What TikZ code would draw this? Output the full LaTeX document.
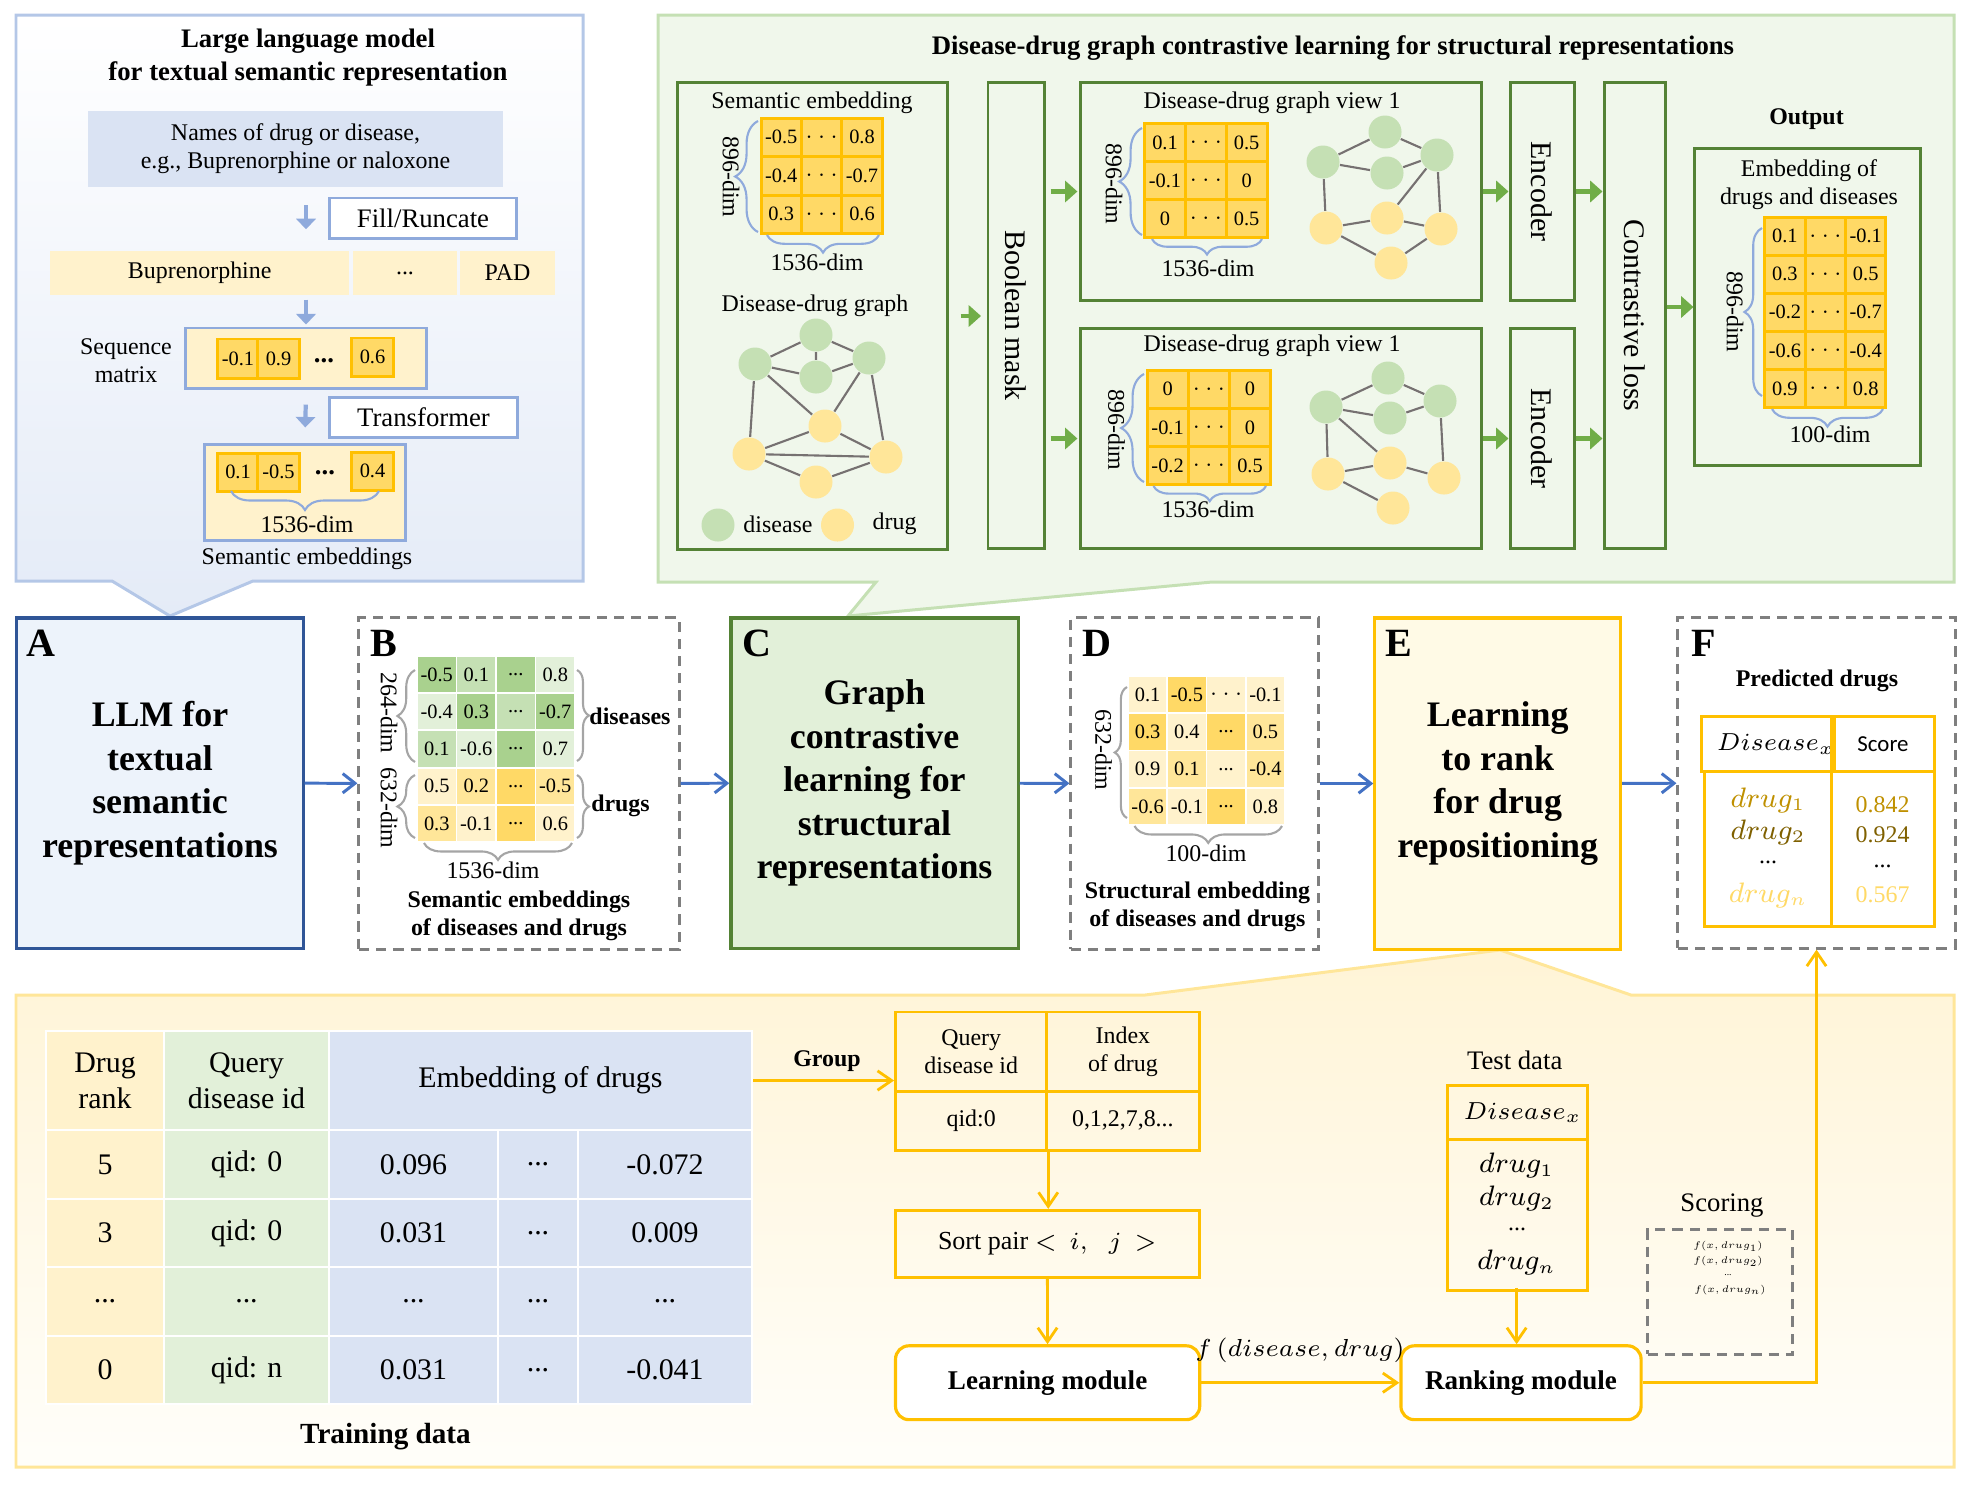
\documentclass[tikz,border=0pt]{standalone}
\usepackage{fontspec}
\setmainfont{Liberation Serif}
\newfontfamily\scorefont{Carlito}
\usetikzlibrary{arrows.meta,decorations.pathreplacing,positioning,calc}

\definecolor{llmline}{HTML}{B4C7E7}
\definecolor{llmbottom}{HTML}{E4EBF7}
\definecolor{namefill}{HTML}{DAE3F3}
\definecolor{lightblue}{HTML}{8FAADC}
\definecolor{darkblue}{HTML}{2F5597}
\definecolor{midblue}{HTML}{4472C4}
\definecolor{afill}{HTML}{EDF3FB}
\definecolor{py}{HTML}{FFF2CC}
\definecolor{my}{HTML}{FFE699}
\definecolor{dy}{HTML}{FFD966}
\definecolor{goldline}{HTML}{FFC000}
\definecolor{greenpanel}{HTML}{F0F7EB}
\definecolor{greenline}{HTML}{C5E0B4}
\definecolor{darkgreen}{HTML}{548235}
\definecolor{arrowgreen}{HTML}{70AD47}
\definecolor{pgreen}{HTML}{E2F0D9}
\definecolor{mgreen}{HTML}{C5E0B4}
\definecolor{lgreen}{HTML}{A9D18E}
\definecolor{edgegray}{HTML}{767171}
\definecolor{dashgray}{HTML}{7F7F7F}
\definecolor{bracegray}{HTML}{A5A5A5}
\definecolor{efill}{HTML}{FFFAE6}
\definecolor{yellowtop}{HTML}{FFF4D6}
\definecolor{yellowbottom}{HTML}{FFFEFA}
\definecolor{darkgold}{HTML}{BF9000}
\definecolor{browngold}{HTML}{7F6000}

\newcommand\tdots{...}

\tikzset
{
    fcell/.style   = {font=\fontsize{5.8}{7}\selectfont},
    fnorm/.style   = {font=\fontsize{6.8}{8}\selectfont},
    fnormb/.style  = {font=\fontsize{6.8}{8.1}\selectfont\bfseries},
    fbig/.style    = {font=\fontsize{7.6}{9.4}\selectfont},
    fbigb/.style   = {font=\fontsize{7.6}{9.4}\selectfont\bfseries},
    fwide/.style   = {font=\fontsize{8.5}{10.2}\selectfont},
    fwideb/.style  = {font=\fontsize{8.3}{10}\selectfont\bfseries},
    fhead/.style   = {font=\fontsize{10.2}{12.4}\selectfont\bfseries},
    fmath/.style   = {font=\fontsize{7.7}{9}\selectfont},
    fdis/.style    = {font=\fontsize{6.9}{8}\selectfont},
    ftiny/.style   = {font=\fontsize{5}{6}\selectfont, scale=0.55, inner sep=0pt},
    letter/.style  = {font=\fontsize{11.4}{13}\selectfont\bfseries, inner sep=0pt},
    llmbox/.style  = {rectangle, draw=lightblue, line width=0.85pt, fill=white, inner sep=0pt, fbig},
    seqbox/.style  = {rectangle, draw=lightblue, line width=0.85pt, fill=py, inner sep=0pt},
    tokcell/.style = {rectangle, fill=py, minimum height=0.44cm, inner sep=0pt, fnorm},
    ycell/.style   = {rectangle, draw=goldline, line width=0.85pt, fill=dy, inner sep=0pt, fcell},
    tcell/.style   = {rectangle, draw=white, line width=0.55pt, inner sep=0pt, fcell},
    gbox/.style    = {rectangle, draw=darkgreen, line width=0.85pt, inner sep=0pt},
    stagebox/.style= {rectangle, line width=0.9pt, inner sep=0pt, align=center, fhead},
    dashbox/.style = {rectangle, draw=dashgray, line width=0.85pt, dash pattern=on 2.9pt off 2pt, inner sep=0pt},
    gtab/.style    = {rectangle, draw=goldline, line width=0.85pt, inner sep=0pt, align=center, fnorm},
    modbox/.style  = {rectangle, rounded corners=3.8pt, draw=goldline, line width=0.9pt, fill=white, inner sep=0pt, font=\fontsize{7.7}{9}\selectfont\bfseries},
    disnode/.style = {circle, fill=mgreen, minimum size=0.33cm, inner sep=0pt},
    drugnode/.style= {circle, fill=my, minimum size=0.33cm, inner sep=0pt},
    gedge/.style   = {draw=edgegray, line width=0.6pt},
    larrow/.style  = {draw=lightblue, line width=1.2pt, -{Triangle[length=3pt,width=5.5pt]}},
    garrow/.style  = {draw=arrowgreen, line width=1.3pt, -{Triangle[length=3.5pt,width=6pt]}},
    barrow/.style  = {draw=midblue, line width=0.85pt, -{Straight Barb[length=3.5pt,width=5.5pt]}},
    yarrow/.style  = {draw=goldline, line width=0.8pt, -{Straight Barb[length=4pt,width=5.5pt]}},
    bluebrace/.style = {draw=lightblue, line width=0.6pt, decorate, decoration={brace, amplitude=#1}},
    graybrace/.style = {draw=bracegray, line width=0.6pt, decorate, decoration={brace, amplitude=#1}}
}

% grid of yellow cells: name, x0, y0, cell width, cell height, rows
\newcommand\cellgrid[6]{%
  \foreach \rowvals [count=\i from 0] in {#6}{%
    \foreach \v [count=\j from 0] in \rowvals {%
      \node (#1-\i-\j) [ycell, minimum width=#4*0.01cm, minimum height=#5*0.01cm]
        at (#2+#4*\j+#4/2, #3+#5*\i+#5/2) {\v};
    }%
  }%
}
% grid of shaded cells, entries value/colour
\newcommand\colorgrid[6]{%
  \foreach \rowvals [count=\i from 0] in {#6}{%
    \foreach \v/\cl [count=\j from 0] in \rowvals {%
      \node (#1-\i-\j) [tcell, fill=\cl, minimum width=#4*0.01cm, minimum height=#5*0.01cm]
        at (#2+#4*\j+#4/2, #3+#5*\i+#5/2) {\v};
    }%
  }%
}

\begin{document}
\begin{tikzpicture}[x=0.01cm, y=-0.01cm]
\useasboundingbox (0,0) rectangle (1967,1511);

% panels with callouts
\path[draw=llmline, line width=0.85pt, top color=white, bottom color=llmbottom]
    (16,15) -- (583,15) -- (583,581) -- (253,581) -- (170,616) -- (112,581) -- (16,581) -- cycle;
\path[draw=greenline, line width=0.85pt, fill=greenpanel]
    (658,15) -- (1954,15) -- (1954,582) -- (1212,582) -- (848,616) -- (876,582) -- (658,582) -- cycle;
\path[draw=my, line width=0.85pt, top color=yellowtop, bottom color=yellowbottom]
    (16,995) -- (1145,995) -- (1500,950) -- (1631,995) -- (1954,995) -- (1954,1467) -- (16,1467) -- cycle;

% LLM panel
\node (llmtitle) [fbigb, align=center] at (308,58) {Large language model\\for textual semantic representation};
\node (names) [rectangle, fill=namefill, minimum width=4.15cm, minimum height=0.755cm, align=center, fnorm] at (295.5,149) {Names of drug or disease,\\e.g., Buprenorphine or naloxone};
\node (fillbox) [llmbox, minimum width=1.86cm, minimum height=0.40cm] at (423,218) {Fill/Runcate};
\node (tok1) [tokcell, minimum width=2.985cm] at (199.7,273) {Buprenorphine};
\node (tok2) [tokcell, minimum width=1.04cm] at (405,273) {\tdots};
\node (tok3) [tokcell, minimum width=0.95cm] at (507.5,273) {PAD};
\node (seq) [seqbox, minimum width=2.4cm, minimum height=0.6cm] at (306,358) {};
\node (seqname) [fnorm, align=center] at (126,361) {Sequence\\matrix};
\node (seq1) [ycell, minimum width=0.40cm, minimum height=0.39cm] at (238,358.5) {-0.1};
\node (seq2) [ycell, minimum width=0.41cm, minimum height=0.39cm] at (278.5,358.5) {0.9};
\node (seqdots) [fbigb] at (324,361) {\tdots};
\node (seq3) [ycell, minimum width=0.41cm, minimum height=0.38cm] at (372.5,357) {0.6};
\node (trans) [llmbox, minimum width=1.87cm, minimum height=0.40cm] at (423.5,417) {Transformer};
\node (sem) [seqbox, minimum width=2.0cm, minimum height=0.95cm] at (305,492.5) {};
\node (sem1) [ycell, minimum width=0.40cm, minimum height=0.38cm] at (238,472) {0.1};
\node (sem2) [ycell, minimum width=0.41cm, minimum height=0.38cm] at (278.5,472) {-0.5};
\node (semdots) [fbigb] at (325,473) {\tdots};
\node (sem3) [ycell, minimum width=0.41cm, minimum height=0.38cm] at (372.5,471) {0.4};
\draw[bluebrace=5.4pt] (379,491) -- (231,491);
\node (semdim) [fnorm] at (307,524) {1536-dim};
\node (semname) [fnorm] at (307,559) {Semantic embeddings};
\draw[larrow, shorten <=0.18cm, shorten >=0.21cm] (names.south -| seq.north) -- (tok1.north -| seq.north);
\draw[larrow, shorten <=0.04cm, shorten >=0.02cm] (tok1.south -| seq.north) -- (seq.north);
\draw[larrow, shorten <=0.15cm, shorten >=0.16cm] (seq.south) -- (sem.north);

% graph contrastive learning panel
\node (gtitle) [fbigb] at (1333,48) {Disease-drug graph contrastive learning for structural representations};
\node (sebox) [gbox, minimum width=2.69cm, minimum height=4.66cm] at (812.5,316) {};
\node (setitle) [fnorm] at (812,103) {Semantic embedding};
\cellgrid{sm}{761}{118}{40.4}{38.5}{{-0.5,$\cdots$,0.8},{-0.4,$\cdots$,-0.7},{0.3,$\cdots$,0.6}}
\draw[bluebrace=6.5pt] (758,232) -- (758,121);
\node (smrows) [fnorm, rotate=-90] at (731,177) {896-dim};
\draw[bluebrace=5pt] (879,235) -- (767,235);
\node (smcols) [fnorm] at (817,262) {1536-dim};
\node (gname) [fnorm] at (815,306) {Disease-drug graph};
\node (ld1) [disnode] at (816,335) {};
\node (ld2) [disnode] at (755,364) {};
\node (ld3) [disnode] at (869,358) {};
\node (ld4) [disnode] at (816,377) {};
\node (lr1) [drugnode] at (825,426) {};
\node (lr2) [drugnode] at (749,454) {};
\node (lr3) [drugnode] at (886,457) {};
\node (lr4) [drugnode] at (816,482) {};
\draw[gedge] (ld2) -- (ld1) (ld1) -- (ld3) (ld1) -- (ld4) (ld2) -- (ld4) (ld4) -- (ld3)
    (ld2) -- (lr1) (ld3) -- (lr1) (ld2) -- (lr2) (ld3) -- (lr3)
    (lr1) -- (lr2) (lr1) -- (lr3) (lr2) -- (lr3) (lr2) -- (lr4) (lr4) -- (lr3);
\node (legd) [disnode] at (718,525) {};
\node (legdtext) [fnorm] at (778,524) {disease};
\node (legr) [drugnode] at (837.5,525) {};
\node (legrtext) [fnorm] at (894.6,524) {drug};

\node (mask) [gbox, minimum width=0.56cm, minimum height=4.65cm] at (1016,315.5) {};
\node (masktext) [fwide, rotate=-90] at (1016,315.5) {Boolean mask};

\node (view1) [gbox, minimum width=4.0cm, minimum height=2.17cm] at (1281,191.5) {};
\node (v1title) [fnorm] at (1272,103) {Disease-drug graph view 1};
\cellgrid{va}{1144.6}{123.6}{40.8}{38.1}{{0.1,$\cdots$,0.5},{-0.1,$\cdots$,0},{0,$\cdots$,0.5}}
\draw[bluebrace=6.5pt] (1142,235) -- (1142,128);
\node (varows) [fnorm, rotate=-90] at (1114,184) {896-dim};
\draw[bluebrace=4.4pt] (1262,239) -- (1152,239);
\node (vacols) [fnorm] at (1208,268) {1536-dim};
\node (ad1) [disnode] at (1323,162) {};
\node (ad2) [disnode] at (1385,132) {};
\node (ad3) [disnode] at (1387,173) {};
\node (ad4) [disnode] at (1437,155) {};
\node (ar1) [drugnode] at (1326,228) {};
\node (ar2) [drugnode] at (1387,218) {};
\node (ar3) [drugnode] at (1441,229) {};
\node (ar4) [drugnode] at (1391,263) {};
\draw[gedge] (ad1) -- (ad2) (ad2) -- (ad4) (ad1) -- (ad3) (ad3) -- (ad4) (ad1) -- (ar1)
    (ad4) -- (ar2) (ad4) -- (ar3) (ar1) -- (ar2) (ar2) -- (ar3) (ar1) -- (ar4) (ar4) -- (ar3);

\node (view2) [gbox, minimum width=4.0cm, minimum height=2.19cm] at (1281,438.5) {};
\node (v2title) [fnorm] at (1272,346) {Disease-drug graph view 1};
\cellgrid{vb}{1147}{370}{41.2}{38.3}{{0,$\cdots$,0},{-0.1,$\cdots$,0},{-0.2,$\cdots$,0.5}}
\draw[bluebrace=6.5pt] (1144,482) -- (1144,374);
\node (vbrows) [fnorm, rotate=-90] at (1116.5,430) {896-dim};
\draw[bluebrace=4.3pt] (1266,486) -- (1153.5,486);
\node (vbcols) [fnorm] at (1208,509) {1536-dim};
\node (bd1) [disnode] at (1326,407) {};
\node (bd2) [disnode] at (1388,378) {};
\node (bd3) [disnode] at (1390,418) {};
\node (bd4) [disnode] at (1440,401) {};
\node (br1) [drugnode] at (1328,474) {};
\node (br2) [drugnode] at (1390,463) {};
\node (br3) [drugnode] at (1444,478) {};
\node (br4) [drugnode] at (1393,508) {};
\draw[gedge] (bd1) -- (bd2) (bd2) -- (bd4) (bd1) -- (bd3) (bd3) -- (bd4) (bd1) -- (br1)
    (bd1) -- (br2) (bd4) -- (br3) (br1) -- (br2) (br2) -- (br3) (br1) -- (br4);

\node (enc1) [gbox, minimum width=0.64cm, minimum height=2.17cm] at (1542,191.5) {};
\node (enc1text) [fwide, rotate=-90] at (1542,191.5) {Encoder};
\node (enc2) [gbox, minimum width=0.64cm, minimum height=2.19cm] at (1542,438.5) {};
\node (enc2text) [fwide, rotate=-90] at (1542,438.5) {Encoder};
\node (contr) [gbox, minimum width=0.61cm, minimum height=4.65cm] at (1634.5,315.5) {};
\node (contrtext) [fwide, rotate=-90] at (1634.5,315.5) {Contrastive loss};

\node (outlabel) [fnormb] at (1806.5,119) {Output};
\node (out) [gbox, minimum width=2.25cm, minimum height=3.16cm] at (1807.5,307) {};
\node (outtitle) [fnorm, align=center] at (1809,184.5) {Embedding of\\drugs and diseases};
\cellgrid{om}{1764.7}{217}{40.4}{38.1}{{0.1,$\cdots$,-0.1},{0.3,$\cdots$,0.5},{-0.2,$\cdots$,-0.7},{-0.6,$\cdots$,-0.4},{0.9,$\cdots$,0.8}}
\draw[bluebrace=5pt] (1762,396) -- (1762,228);
\node (omrows) [fnorm, rotate=-90] at (1735,312) {896-dim};
\draw[bluebrace=5pt] (1883,409) -- (1772,409);
\node (omcols) [fnorm] at (1830,434) {100-dim};

\draw[garrow, shorten <=0.12cm, shorten >=0.055cm] (sebox.east) -- (mask.west |- sebox.east);
\draw[garrow, shorten <=0.05cm, shorten >=0.02cm] (mask.east |- view1.west) -- (view1.west);
\draw[garrow, shorten <=0.05cm, shorten >=0.02cm] (mask.east |- view2.west) -- (view2.west);
\draw[garrow] (view1.east) -- (enc1.west);
\draw[garrow] (view2.east) -- (enc2.west);
\draw[garrow] (enc1.east) -- (contr.west |- enc1.east);
\draw[garrow] (enc2.east) -- (contr.west |- enc2.east);
\draw[garrow] (contr.east |- out.west) -- (out.west);

% pipeline A-F
\node (abox) [stagebox, draw=darkblue, fill=afill, minimum width=2.86cm, minimum height=3.30cm] at (160,783) {LLM for\\textual\\semantic\\representations};
\node (aletter) [letter] at (41,643) {A};

\node (bbox) [dashbox, minimum width=3.20cm, minimum height=3.31cm] at (519,783.5) {};
\node (bletter) [letter] at (384,643) {B};
\colorgrid{bm}{417}{656}{39.5}{37.2}{{-0.5/lgreen,0.1/mgreen,\tdots/lgreen,0.8/pgreen},{-0.4/pgreen,0.3/lgreen,\tdots/mgreen,-0.7/lgreen},{0.1/mgreen,-0.6/pgreen,\tdots/lgreen,0.7/pgreen},{0.5/py,0.2/my,\tdots/dy,-0.5/my},{0.3/my,-0.1/py,\tdots/dy,0.6/py}}
\draw[graybrace=5pt] (415,762) -- (415,670);
\node (bdisdim) [fnorm, rotate=-90] at (389,713) {264-dim};
\draw[graybrace=5pt] (415,838) -- (415,775);
\node (bdrugdim) [fnorm, rotate=-90] at (389,808) {632-dim};
\draw[graybrace=3.4pt] (577,670) -- (577,761);
\node (bdis) [fnormb] at (630,716) {diseases};
\draw[graybrace=3.4pt] (577,775) -- (577,838);
\node (bdrug) [fnormb] at (620.5,806) {drugs};
\draw[graybrace=4.8pt] (572,843) -- (424,843);
\node (bcols) [fnorm] at (493,870) {1536-dim};
\node (bname) [fnormb, align=center] at (519,916) {Semantic embeddings\\of diseases and drugs};

\node (cbox) [stagebox, draw=darkgreen, fill=pgreen, minimum width=2.87cm, minimum height=3.30cm] at (874.5,783) {Graph\\contrastive\\learning for\\structural\\representations};
\node (cletter) [letter] at (757,643) {C};

\node (dbox) [dashbox, minimum width=2.47cm, minimum height=3.31cm] at (1194.5,783.5) {};
\node (dletter) [letter] at (1097,643) {D};
\colorgrid{dm}{1128}{676}{39.25}{37.25}{{0.1/py,-0.5/dy,$\cdots$/py,-0.1/py},{0.3/dy,0.4/py,\tdots/dy,0.5/my},{0.9/py,0.1/my,\tdots/py,-0.4/my},{-0.6/my,-0.1/py,\tdots/dy,0.8/py}}
\draw[graybrace=3.5pt] (1127,818) -- (1127,687);
\node (drows) [fnorm, rotate=-90] at (1103.5,750) {632-dim};
\draw[graybrace=4.8pt] (1282,826) -- (1134.5,826);
\node (dcols) [fnorm] at (1206,853) {100-dim};
\node (dname) [fnormb, align=center] at (1197.4,907) {Structural embedding\\of diseases and drugs};

\node (ebox) [stagebox, draw=goldline, fill=efill, minimum width=2.455cm, minimum height=3.31cm] at (1497.7,783.5) {Learning\\to rank\\for drug\\repositioning};
\node (eletter) [letter] at (1399,643) {E};

\node (fbox) [dashbox, minimum width=2.77cm, minimum height=3.30cm] at (1816.5,783) {};
\node (fletter) [letter] at (1704,643) {F};
\node (fname) [fnormb] at (1817,681) {Predicted drugs};
\node (fhead1) [gtab, fdis, minimum width=1.265cm, minimum height=0.557cm] at (1768.25,743.85) {\hspace*{0.15cm}$Disease_x$};
\node (fhead2) [gtab, font=\scorefont\fontsize{6.5}{8}\selectfont, minimum width=1.03cm, minimum height=0.557cm] at (1883,743.85) {Score};
\node (fbody1) [gtab, minimum width=1.265cm, minimum height=1.543cm] at (1768.25,848.85) {};
\node (fbody2) [gtab, minimum width=1.03cm, minimum height=1.543cm] at (1883,848.85) {};
\node (fd1) [fmath, text=darkgold] at (1768,800) {$drug_1$};
\node (fd2) [fmath, text=browngold] at (1768,832) {$drug_2$};
\node (fdd) [fnorm] at (1768,862) {\tdots};
\node (fdn) [fmath, text=dy] at (1768,895) {$drug_n$};
\node (fs1) [fnorm, text=darkgold] at (1882.6,805) {0.842};
\node (fs2) [fnorm, text=browngold] at (1882.6,835) {0.924};
\node (fsd) [fnorm] at (1882.6,866) {\tdots};
\node (fsn) [fnorm, text=dy] at (1882.6,895) {0.567};

\draw[barrow] (abox) -- (bbox);
\draw[barrow] (bbox) -- (cbox);
\draw[barrow] (cbox) -- (dbox);
\draw[barrow] (dbox) -- (ebox);
\draw[barrow] (ebox) -- (fbox);

% learning to rank panel
\node (hrank) [tcell, fill=py, fwide, align=center, minimum width=1.18cm, minimum height=0.99cm] at (105,1080.5) {Drug\\rank};
\node (hqid) [tcell, fill=pgreen, fwide, align=center, minimum width=1.65cm, minimum height=0.99cm] at (246.5,1080.5) {Query\\disease id};
\node (hemb) [tcell, fill=namefill, fwide, minimum width=4.23cm, minimum height=0.99cm] at (540.5,1080.5) {Embedding of drugs};
\foreach \r/\q/\e/\f/\g [count=\i from 0] in {5/qid: 0/0.096/\tdots/-0.072, 3/qid: 0/0.031/\tdots/0.009, \tdots/\tdots/\tdots/\tdots/\tdots, 0/qid: n/0.031/\tdots/-0.041}
{
    \node (tr-\i-0) [tcell, fill=py, fwide, minimum width=1.18cm, minimum height=0.685cm] at (105,1164.5+68.5*\i) {\r};
    \node (tr-\i-1) [tcell, fill=pgreen, fwide, minimum width=1.65cm, minimum height=0.685cm] at (246.5,1164.5+68.5*\i) {\q};
    \node (tr-\i-2) [tcell, fill=namefill, fwide, minimum width=1.69cm, minimum height=0.685cm] at (413.5,1164.5+68.5*\i) {\e};
    \node (tr-\i-3) [tcell, fill=namefill, fwide, minimum width=0.80cm, minimum height=0.685cm] at (538,1164.5+68.5*\i) {\f};
    \node (tr-\i-4) [tcell, fill=namefill, fwide, minimum width=1.74cm, minimum height=0.685cm] at (665,1164.5+68.5*\i) {\g};
}
\node (trainname) [fwideb] at (385.5,1437) {Training data};

\node (group) [fnormb] at (827,1061) {Group};
\node (gq) [gtab, minimum width=1.511cm, minimum height=0.79cm] at (971.15,1051.5) {Query\\disease id};
\node (gi) [gtab, minimum width=1.523cm, minimum height=0.79cm] at (1122.85,1051.5) {Index\\of drug};
\node (gqv) [gtab, minimum width=1.511cm, minimum height=0.594cm] at (971.15,1120.7) {qid:0};
\node (giv) [gtab, minimum width=1.523cm, minimum height=0.594cm] at (1122.85,1120.7) {0,1,2,7,8...};
\node (sort) [gtab, font=\fontsize{7.4}{9}\selectfont, minimum width=3.034cm, minimum height=0.667cm] at (1047.3,1243.7) {Sort pair $<\,i,\;\;j\,>$};
\node (learn) [modbox, minimum width=3.04cm, minimum height=0.738cm] at (1047.6,1382.7) {Learning module};
\node (rank) [modbox, minimum width=2.40cm, minimum height=0.738cm] at (1521,1382.7) {Ranking module};
\node (flabel) [font=\fontsize{7.2}{9}\selectfont] at (1300,1350) {$f\,(disease,drug)$};

\node (testname) [fbig] at (1514.7,1060) {Test data};
\node (testtop) [gtab, fdis, minimum width=1.39cm, minimum height=0.535cm] at (1517.5,1112.5) {\hspace*{0.1cm}$Disease_x$};
\node (testbody) [gtab, minimum width=1.39cm, minimum height=1.508cm] at (1517.5,1214.6) {};
\node (td1) [fmath] at (1516.6,1165.6) {$drug_1$};
\node (td2) [fmath] at (1516.6,1198.5) {$drug_2$};
\node (tdd) [fnorm] at (1517,1229) {\tdots};
\node (tdn) [fmath] at (1516.6,1262.8) {$drug_n$};

\node (scorename) [fbig] at (1722,1206) {Scoring};
\node (scorebox) [dashbox, minimum width=1.446cm, minimum height=1.243cm] at (1720.3,1292) {};
\node (sc1) [ftiny] at (1728,1246.5) {$f(x,drug_1)$};
\node (sc2) [ftiny] at (1728,1261) {$f(x,drug_2)$};
\node (scd) [ftiny] at (1728,1275) {\tdots};
\node (scn) [ftiny] at (1730,1290) {$f(x,drug_n)$};

\draw[yarrow] (hemb.east) -- (hemb.east -| gq.west);
\draw[yarrow] (gqv.south east) -- (gqv.south east |- sort.north);
\draw[yarrow] (sort) -- (learn);
\draw[yarrow] (learn) -- (rank);
\draw[yarrow] (tdn.south) -- (tdn.south |- rank.north);
\draw[yarrow] (rank.east) -| (fbox.south);
\end{tikzpicture}
\end{document}
